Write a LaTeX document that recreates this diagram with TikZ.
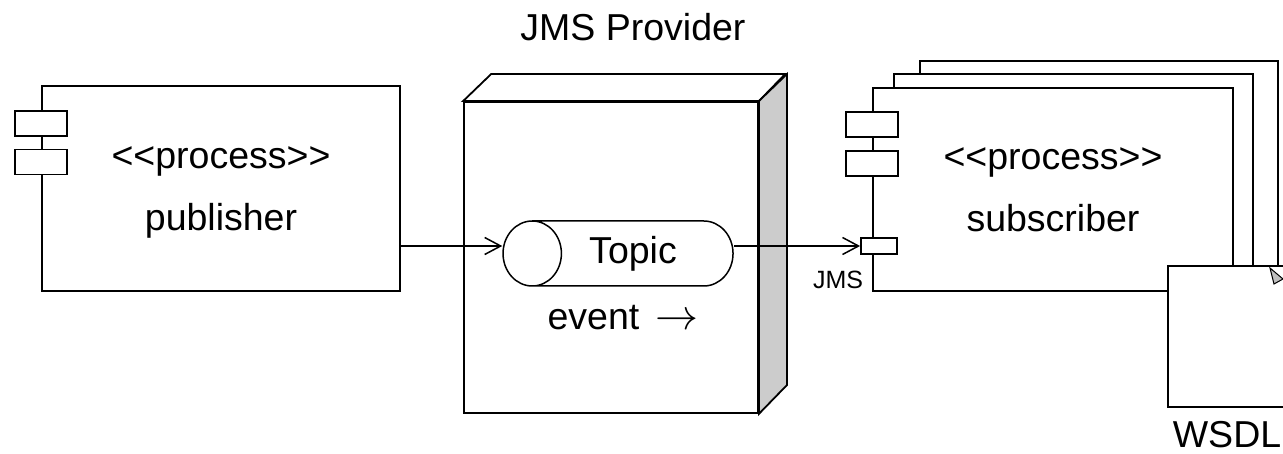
\RequirePackage{fix-cm}
\documentclass[tikz,border=0pt]{standalone}
\usepackage{fontspec}
\usepackage{tikz}
\usetikzlibrary{shapes.geometric, arrows.meta, positioning, calc}
\newfontfamily\umlfont{Liberation Sans}
\definecolor{sideshade}{HTML}{CCCCCC}

\begin{document}
\begin{tikzpicture}[x=1pt, y=-1pt, line width=1.8pt,
        every node/.style={font=\umlfont\fontsize{37.5}{62}\selectfont},
        comp/.style={draw, fill=white, align=center, inner sep=0pt, text depth=0pt},
        tab/.style={draw, fill=white, minimum width=52pt, minimum height=25pt, inner sep=0pt},
        port/.style={draw, fill=white, minimum width=36pt, minimum height=16pt, inner sep=0pt},
        arrow/.style={-{Straight Barb[length=16pt, width=17pt]}, line width=1.5pt}
    ]
        \useasboundingbox (0,0) rectangle (1283,454);

        \node (pub) [comp, minimum width=358pt, minimum height=205pt] at (221,188.5) {<<process>>\\publisher};
        \node (pubtab1) [tab] at ($(pub.north west)+(0,38.5)$) {};
        \node (pubtab2) [tab] at ($(pub.north west)+(0,77)$) {};

        \node (provider) [draw, fill=white, minimum width=294pt, minimum height=311pt, inner sep=0pt] at (611,257.5) {};
        \draw [fill=white] (provider.north west) -- ++(28,-27) -- ++(294,0) -- (provider.north east) -- cycle;
        \draw [fill=sideshade] (provider.north east) -- ++(28,-27) -- ++(0,311) -- (provider.south east) -- cycle;
        \node (provname) at (633,27) {JMS Provider};

        \node (topic) [draw, fill=white, cylinder, shape border rotate=180, aspect=1.67, minimum height=230pt, minimum width=65pt, inner sep=0pt, line width=1.5pt] at (633,253.5) {Topic};
        \node (event) [anchor=base] at (623,330) {event\hspace{16pt}{\fontsize{43}{50}\selectfont\(\rightarrow\)}};

        \node (sub3) [comp, minimum width=358pt, minimum height=219pt] at (1099,170.5) {};
        \node (sub2) [comp, minimum width=359pt, minimum height=206pt] at (1073.5,177) {};
        \node (sub) [comp, minimum width=360pt, minimum height=203pt] at (1053,189.5) {<<process>>\\subscriber};
        \node (subtab1) [tab] at ($(sub.north west)+(0,37.5)$) {};
        \node (subtab2) [tab] at ($(sub.north west)+(0,76.5)$) {};
        \node (jms) [port] at (879,246) {};
        \node (jmsname) [font=\umlfont\fontsize{25}{30}\selectfont] at (838,280) {JMS};

        \coordinate (flow) at (0,246);
        \draw [arrow] (pub.east |- flow) -- (topic.west |- flow);
        \draw [arrow] (topic.east |- flow) -- (jms.west);

        \node (wsdl) [draw, fill=white, minimum width=118pt, minimum height=141pt, inner sep=0pt,
            label={[inner sep=0pt, label distance=13pt]below:WSDL}] at (1227,336.5) {};
        \draw [line width=1pt, fill=gray!50] (1270,268) -- (1283,279) -- (1274,284) -- cycle;
    \end{tikzpicture}
\end{document}
